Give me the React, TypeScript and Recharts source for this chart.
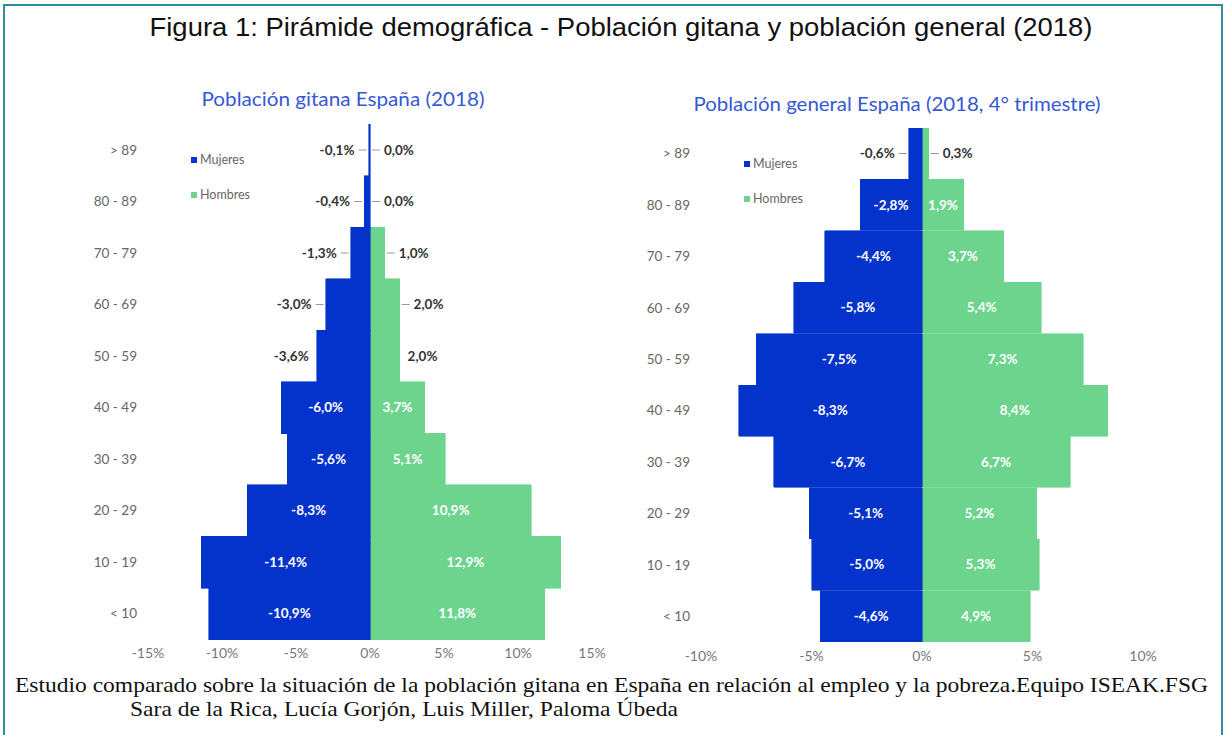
import { Bar, BarChart, LabelList, XAxis, YAxis } from "recharts";

const ageGroups = ["> 89", "80 - 89", "70 - 79", "60 - 69", "50 - 59", "40 - 49", "30 - 39", "20 - 29", "10 - 19", "< 10"];

// población gitana
const gitanaMujeres = [-0.1, -0.4, -1.3, -3.0, -3.6, -6.0, -5.6, -8.3, -11.4, -10.9];
const gitanaHombres = [0.0, 0.0, 1.0, 2.0, 2.0, 3.7, 5.1, 10.9, 12.9, 11.8];
const gitanaTicks = [-15, -10, -5, 0, 5, 10, 15];
const gitanaLeaderRows = ["> 89", "80 - 89", "70 - 79", "60 - 69"];

// población general
const generalMujeres = [-0.6, -2.8, -4.4, -5.8, -7.5, -8.3, -6.7, -5.1, -5.0, -4.6];
const generalHombres = [0.3, 1.9, 3.7, 5.4, 7.3, 8.4, 6.7, 5.2, 5.3, 4.9];
const generalTicks = [-10, -5, 0, 5, 10];
const generalLeaderRows = ["> 89"];

const BLUE = "#0433cc";
const GREEN = "#6dd48e";
const FONT = "Lato, 'Open Sans', sans-serif";

const fmt = (v: number) => v.toFixed(1).replace(".", ",") + "%";

function buildRows(mujeres: number[], hombres: number[]) {
  return ageGroups.map((age, i) => ({ age, mujeres: mujeres[i], hombres: hombres[i] }));
}

function BarText({ side, inside, leader, edge, center, cy, v }: any) {
  if (inside) {
    return (
      <text x={center} y={cy} dy="0.35em" textAnchor="middle" fill="#fff" fontSize={13.5} fontWeight={700} fontFamily={FONT}>
        {fmt(v)}
      </text>
    );
  }
  const dir = side === "left" ? -1 : 1;
  const gap = leader ? 14 : 8;
  return (
    <g>
      {leader && <line x1={edge + dir * 2} x2={edge + dir * 10} y1={cy} y2={cy} stroke="#999" strokeWidth={1} />}
      <text x={edge + dir * gap} y={cy} dy="0.35em" textAnchor={side === "left" ? "end" : "start"} fill="#333" fontSize={13.5} fontWeight={700} fontFamily={FONT}>
        {fmt(v)}
      </text>
    </g>
  );
}

// labels for both sides drawn from the women's bars (every women value is non-zero)
function makeLabels(hombres: number[], insideMin: number, leaderRows: string[]) {
  return (props: any) => {
    const { x, y, width, height, value, index } = props;
    const v = Number(value);
    const left = Math.min(x, x + width);
    const zero = Math.max(x, x + width);
    const pxPerUnit = Math.abs(width) / Math.abs(v);
    const cy = y + height / 2;
    const leader = leaderRows.includes(ageGroups[index]);
    const h = hombres[index];
    const hRight = zero + h * pxPerUnit;
    return (
      <g>
        <BarText side="left" inside={Math.abs(v) >= insideMin} leader={leader} edge={left} center={(left + zero) / 2} cy={cy} v={v} />
        <BarText side="right" inside={h >= insideMin} leader={leader} edge={hRight} center={(zero + hRight) / 2} cy={cy} v={h} />
      </g>
    );
  };
}

function Pyramid({
  mujeres,
  hombres,
  ticks,
  leaderRows,
  insideMin,
  width,
  height,
  top,
}: {
  mujeres: number[];
  hombres: number[];
  ticks: number[];
  leaderRows: string[];
  insideMin: number;
  width: number;
  height: number;
  top: number;
}) {
  const rows = buildRows(mujeres, hombres);
  const lim = ticks[ticks.length - 1];
  return (
    <BarChart
      width={width}
      height={height}
      data={rows}
      layout="vertical"
      stackOffset="sign"
      barCategoryGap={0}
      margin={{ top, right: 20, left: 0, bottom: 0 }}
    >
      <XAxis
        type="number"
        domain={[-lim, lim]}
        ticks={ticks}
        tickFormatter={(v) => `${v}%`}
        axisLine={false}
        tickLine={false}
        tickSize={0}
        tickMargin={9}
        height={30}
        tick={{ fontSize: 14, fill: "#777", fontFamily: FONT }}
      />
      <YAxis
        type="category"
        dataKey="age"
        width={88}
        axisLine={false}
        tickLine={false}
        tickSize={0}
        tickMargin={11}
        tick={{ fontSize: 13.5, fill: "#666", fontFamily: FONT }}
      />
      <Bar dataKey="hombres" name="Hombres" stackId="a" fill={GREEN} stroke={GREEN} strokeWidth={0.6} shapeRendering="crispEdges" isAnimationActive={false} />
      <Bar dataKey="mujeres" name="Mujeres" stackId="a" fill={BLUE} stroke={BLUE} strokeWidth={0.6} shapeRendering="crispEdges" isAnimationActive={false}>
        <LabelList dataKey="mujeres" content={makeLabels(hombres, insideMin, leaderRows)} />
      </Bar>
    </BarChart>
  );
}

function Legend({ left, top }: { left: number; top: number }) {
  const item = (color: string, label: string, dy: number) => (
    <div style={{ position: "absolute", left: 0, top: dy, display: "flex", alignItems: "center", whiteSpace: "nowrap" }}>
      <span style={{ width: 6, height: 6, background: color, marginRight: 3 }} />
      <span style={{ fontSize: 12.5, color: "#666", fontFamily: FONT }}>{label}</span>
    </div>
  );
  return (
    <div style={{ position: "absolute", left, top }}>
      {item(BLUE, "Mujeres", 0)}
      {item(GREEN, "Hombres", 35)}
    </div>
  );
}

export default function App() {
  return (
    <div style={{ position: "absolute", left: 0, top: 0, width: 1224, height: 735, overflow: "hidden", background: "#fff" }}>
      <div style={{ position: "absolute", left: 3, top: 4, width: 1216, height: 800, border: "2px solid #2f8e9c", borderBottom: "none" }} />

      <div style={{ position: "absolute", left: 60, top: 110 }}>
        <Pyramid mujeres={gitanaMujeres} hombres={gitanaHombres} ticks={gitanaTicks} leaderRows={gitanaLeaderRows} insideMin={3.65} width={552} height={559} top={14} />
      </div>
      <div style={{ position: "absolute", left: 613, top: 110 }}>
        <Pyramid mujeres={generalMujeres} hombres={generalHombres} ticks={generalTicks} leaderRows={generalLeaderRows} insideMin={1.0} width={550} height={562} top={18} />
      </div>

      <Legend left={191} top={152} />
      <Legend left={744} top={156} />

      <svg width={1224} height={735} style={{ position: "absolute", left: 0, top: 0, pointerEvents: "none" }}>
        <text x={621} y={36} textAnchor="middle" fontSize={26} fontFamily="'Liberation Sans', Arial, sans-serif" fill="#111" textLength={943} lengthAdjust="spacingAndGlyphs">
          Figura 1: Pirámide demográfica - Población gitana y población general (2018)
        </text>
        <text x={343} y={106} textAnchor="middle" fontSize={19} fontFamily={FONT} fill="#3558d6" textLength={283} lengthAdjust="spacingAndGlyphs">
          Población gitana España (2018)
        </text>
        <text x={897} y={111} textAnchor="middle" fontSize={19} fontFamily={FONT} fill="#3558d6" textLength={407} lengthAdjust="spacingAndGlyphs">
          Población general España (2018, 4° trimestre)
        </text>
        <text x={15} y={692} fontSize={21} fontFamily="'Liberation Serif', 'Times New Roman', serif" fill="#111" textLength={1193} lengthAdjust="spacingAndGlyphs">
          Estudio comparado sobre la situación de la población gitana en España en relación al empleo y la pobreza.Equipo ISEAK.FSG
        </text>
        <text x={130} y={716} fontSize={21} fontFamily="'Liberation Serif', 'Times New Roman', serif" fill="#111" textLength={548} lengthAdjust="spacingAndGlyphs">
          Sara de la Rica, Lucía Gorjón, Luis Miller, Paloma Úbeda
        </text>
      </svg>
    </div>
  );
}
